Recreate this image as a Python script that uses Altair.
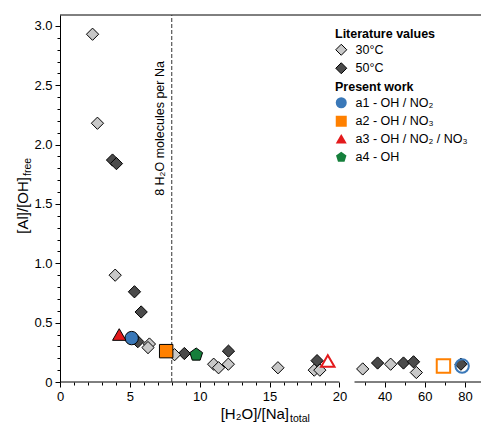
import altair as alt
import pandas as pd

# ---- data ---------------------------------------------------------------
# Literature values, 50 °C
lit50_x = [3.76, 4.04, 5.33, 5.81, 5.57, 8.9, 12.06, 18.4, 36.5, 49.4, 54.4, 78.0]
lit50_y = [1.87, 1.84, 0.76, 0.59, 0.34, 0.24, 0.26, 0.18, 0.16, 0.16, 0.17, 0.15]
# Literature values, 30 °C
lit30_x = [2.33, 2.68, 3.95, 6.4, 6.3, 8.2, 11.0, 11.35, 12.05, 15.6, 18.2, 18.6, 29.1, 43.0, 55.8]
lit30_y = [2.93, 2.18, 0.90, 0.32, 0.29, 0.23, 0.15, 0.12, 0.15, 0.12, 0.10, 0.10, 0.11, 0.15, 0.08]

# Present work (filled markers)
series = ["a1 - OH / NO₂", "a2 - OH / NO₃", "a3 - OH / NO₂ / NO₃", "a4 - OH"]
present_x = [5.13, 7.6, 4.24, 9.75]
present_y = [0.37, 0.26, 0.40, 0.23]

# Present work (open markers)
open_series = ["a1 - OH / NO₂", "a2 - OH / NO₃", "a3 - OH / NO₂ / NO₃"]
open_x = [78.6, 69.3, 19.17]
open_y = [0.135, 0.135, 0.177]

temps = ["30°C", "50°C"]

# axis layout (broken x axis: 0-20 and 25-88)
x_break = [0, 20, 25, 88]
y_max = 3.092
x_major = [0, 5, 10, 15, 20, 40, 60, 80]
x_minor = [1, 2, 3, 4, 6, 7, 8, 9, 11, 12, 13, 14, 16, 17, 18, 19, 30, 50, 70]
y_major = [0, 0.5, 1.0, 1.5, 2.0, 2.5, 3.0]
y_minor = [round(i * 0.1, 1) for i in range(1, 31) if i % 5 != 0]

# ---- styling --------------------------------------------------------------
FONT = "Liberation Sans"
W, H = 421, 367
colors = ["#3a78b8", "#ff8000", "#e31a1c", "#157f3b"]
pentagon = "M0,-1L0.951,-0.309L0.588,0.809L-0.588,0.809L-0.951,-0.309Z"
shapes = ["circle", "square", "triangle-up", pentagon]

x_scale = alt.Scale(domain=x_break, range=[0, 279.4, 294.5, W], nice=False, zero=False)
y_scale = alt.Scale(domain=[0, y_max], nice=False, zero=False)

lit = pd.DataFrame({
    "x": lit50_x + lit30_x,
    "y": lit50_y + lit30_y,
    "temp": ["50°C"] * len(lit50_x) + ["30°C"] * len(lit30_x),
})
present = pd.DataFrame({"x": present_x, "y": present_y, "series": series})
open_pts = pd.DataFrame({"x": open_x, "y": open_y, "series": open_series})

legend_common = dict(
    orient="none", legendX=275, padding=0,
    symbolSize=121, symbolStrokeColor="black", symbolStrokeWidth=1,
    labelFont=FONT, labelFontSize=12.5, labelColor="black", labelOffset=8,
    titleFont=FONT, titleFontSize=12.5, titleFontWeight="bold", titleColor="black",
    titlePadding=3, rowPadding=2.5,
)

x_major_axis = alt.Axis(values=x_major, orient="bottom", domain=False, grid=False,
                        tickSize=5, tickColor="black", labelPadding=3, labelFlush=False,
                        labelOverlap=False, title=None)
y_major_axis = alt.Axis(values=y_major, orient="left", domain=True, domainColor="black",
                        grid=False, tickSize=5, tickColor="black", labelPadding=3,
                        labelFlush=False, labelOverlap=False, title=None,
                        labelExpr="datum.value == 0 ? '0' : format(datum.value, '.1f')")
x_minor_axis = alt.Axis(values=x_minor, orient="bottom", domain=False, grid=False,
                        tickSize=3, tickColor="black", labels=False, title=None)
y_minor_axis = alt.Axis(values=y_minor, orient="left", domain=False, grid=False,
                        tickSize=3, tickColor="black", labels=False, title=None)

# frame: bottom axis segments on each side of the break, and top line
frame = pd.DataFrame({
    "x": [x_break[0], x_break[2], x_break[0]],
    "x2": [x_break[1], x_break[3], x_break[3]],
    "y": [0, 0, y_max],
})
frame_layer = alt.Chart(frame).mark_rule(color="black", strokeWidth=1).encode(
    x=alt.X("x:Q", scale=x_scale, axis=x_minor_axis),
    x2="x2:Q",
    y=alt.Y("y:Q", scale=y_scale, axis=y_minor_axis),
)

# reference line at 8 water molecules per sodium
ref = pd.DataFrame({"x": [8], "y": [0], "y2": [y_max]})
ref_layer = alt.Chart(ref).mark_rule(color="#333333", strokeWidth=1, strokeDash=[4, 2]).encode(
    x=alt.X("x:Q", scale=x_scale, axis=None),
    y=alt.Y("y:Q", scale=y_scale, axis=None),
    y2="y2:Q",
)
note = pd.DataFrame({"x": [7.41], "y": [2.136], "t": ["8 H₂O molecules per Na"]})
note_layer = alt.Chart(note).mark_text(angle=270, align="center", baseline="alphabetic",
                                       font=FONT, fontSize=12.5, color="black").encode(
    x=alt.X("x:Q", scale=x_scale, axis=None),
    y=alt.Y("y:Q", scale=y_scale, axis=None),
    text="t:N",
)

lit_layer = alt.Chart(lit).mark_point(shape="diamond", filled=True, size=150,
                                      stroke="black", strokeWidth=1, opacity=1).encode(
    x=alt.X("x:Q", scale=x_scale, axis=x_major_axis),
    y=alt.Y("y:Q", scale=y_scale, axis=y_major_axis),
    fill=alt.Fill("temp:N", scale=alt.Scale(domain=temps, range=["#c8c8c8", "#4a4a4a"]),
                  legend=alt.Legend(title="Literature values", legendY=13,
                                    symbolType="diamond", **legend_common)),
)

present_legend = alt.Legend(title="Present work", legendY=66, **legend_common)
present_layer = alt.Chart(present).mark_point(filled=True, size=180, stroke="black",
                                              strokeWidth=1, opacity=1).encode(
    x=alt.X("x:Q", scale=x_scale, axis=None),
    y=alt.Y("y:Q", scale=y_scale, axis=None),
    fill=alt.Fill("series:N", scale=alt.Scale(domain=series, range=colors), legend=present_legend),
    shape=alt.Shape("series:N", scale=alt.Scale(domain=series, range=shapes), legend=present_legend),
)

open_layer = alt.Chart(open_pts).mark_point(filled=False, size=180, strokeWidth=2,
                                            opacity=1).encode(
    x=alt.X("x:Q", scale=x_scale, axis=None),
    y=alt.Y("y:Q", scale=y_scale, axis=None),
    stroke=alt.Stroke("series:N", scale=alt.Scale(domain=open_series, range=colors[:3]), legend=None),
    shape=alt.Shape("series:N", scale=alt.Scale(domain=open_series, range=shapes[:3]), legend=None),
)

# axis titles with subscripts
ytitle = alt.Chart(pd.DataFrame({"t": ["[Al]/[OH]"]})).mark_text(
    angle=270, align="right", baseline="alphabetic", font=FONT, fontSize=15, color="black"
).encode(x=alt.value(-32), y=alt.value(162), text="t:N")
ysub = alt.Chart(pd.DataFrame({"t": ["free"]})).mark_text(
    angle=270, align="left", baseline="alphabetic", font=FONT, fontSize=10.5, color="black"
).encode(x=alt.value(-29), y=alt.value(161), text="t:N")
xtitle = alt.Chart(pd.DataFrame({"t": ["[H₂O]/[Na]"]})).mark_text(
    align="right", baseline="alphabetic", font=FONT, fontSize=15, color="black"
).encode(x=alt.value(229), y=alt.value(404), text="t:N")
xsub = alt.Chart(pd.DataFrame({"t": ["total"]})).mark_text(
    align="left", baseline="alphabetic", font=FONT, fontSize=10.5, color="black"
).encode(x=alt.value(230), y=alt.value(407), text="t:N")

chart = alt.layer(
    frame_layer, ref_layer, note_layer, lit_layer, present_layer, open_layer,
    ytitle, ysub, xtitle, xsub,
).resolve_scale(
    fill="independent", shape="independent", stroke="independent"
).resolve_axis(
    x="independent", y="independent"
).properties(
    width=W, height=H,
    padding={"left": 60, "top": 15, "right": 0, "bottom": 42},
    autosize=alt.AutoSizeParams(type="none"),
    background="white",
).configure_view(
    stroke=None
).configure_axis(
    labelFont=FONT, labelFontSize=13, labelColor="black"
)

chart.save("out.html", embed_options={"renderer": "svg", "actions": False})
